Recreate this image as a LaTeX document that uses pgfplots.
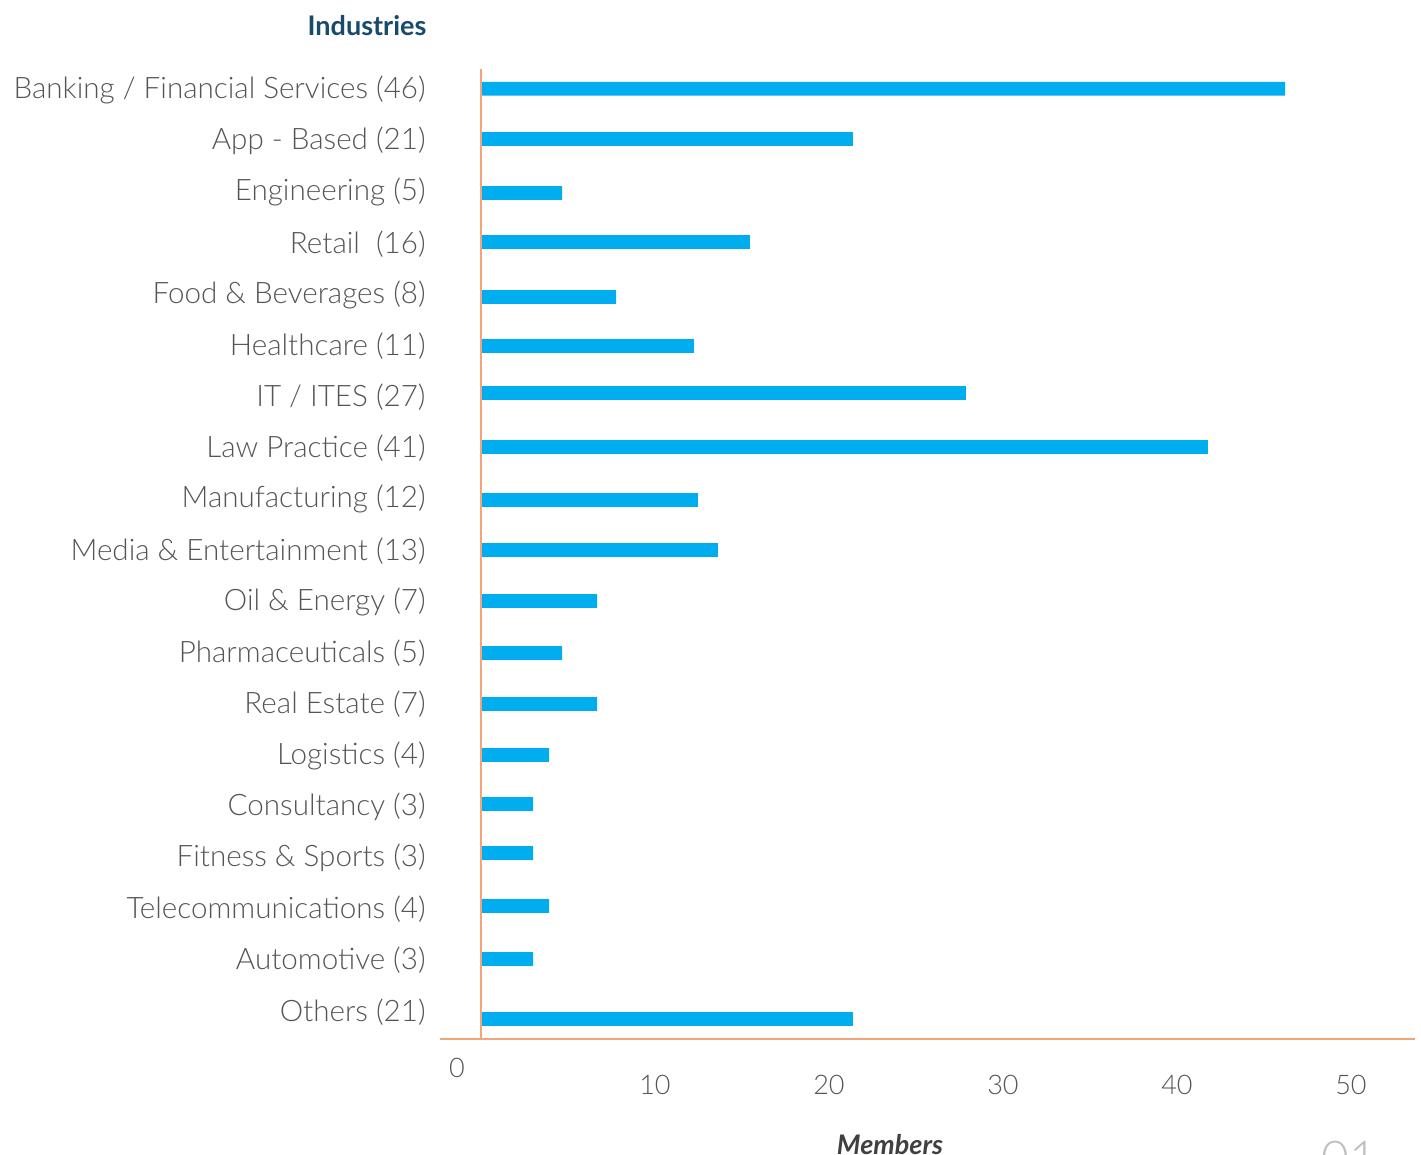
\documentclass[border=0pt]{standalone}
\usepackage{fontspec}
\setmainfont{Lato}[UprightFont=* Light, BoldFont=* Bold, BoldItalicFont=* Bold Italic]
\usepackage{pgfplots}
\usepackage{pgfplotstable}
\pgfplotsset{compat=1.18}
\definecolor{barblue}{HTML}{00AEEF}
\definecolor{axorange}{HTML}{F4A47C}
\definecolor{lbl}{HTML}{555555}
\definecolor{ttl}{HTML}{174A6B}
\definecolor{memb}{HTML}{404040}

\pgfplotstableread{
y v
88.8 46.21
139 21.38
193 4.66
242 15.46
297 7.76
346 12.24
393 27.87
447 41.78
500 12.47
550 13.62
601 6.67
653 4.66
704 6.67
755 3.91
804 2.99
853 2.99
906 3.91
959 2.99
1019 21.38
}\data

\begin{document}
\begin{tikzpicture}
\useasboundingbox (0pt,0pt) rectangle (710.5pt,-577.5pt);
\begin{axis}[
  at={(220pt,-519.5pt)}, anchor=south west,
  scale only axis, width=487.5pt, height=485pt,
  xmin=-2.356, xmax=53.68, ymin=69, ymax=1039, y dir=reverse,
  axis line style={draw=none}, major tick length=0pt, clip=false,
  xtick={10,20,30,40,50},
  ytick={88,139,190,242,293,344,395,446,497,549,600,651,702,754,805,856,907,958,1010},
  yticklabels={Banking / Financial Services (46),App - Based (21),Engineering (5),Retail\ \ (16),Food \& Beverages (8),Healthcare (11),IT / ITES (27),Law Practice (41),Manufacturing (12),Media \& Entertainment (13),Oil \& Energy (7),Pharmaceuticals (5),Real Estate (7),Logistics (4),Consultancy (3),Fitness \& Sports (3),Telecommunications (4),Automotive (3),Others (21)},
  yticklabel style={font=\fontsize{14.8}{17}\selectfont, text=lbl, anchor=east, inner sep=0pt, xshift=-7pt, yshift=-1pt},
  xticklabel style={font=\fontsize{13.5}{16}\selectfont, text=lbl, anchor=center, inner sep=0pt, yshift=-23pt},
  /pgf/number format/assume math mode=true,
]
\addplot[xbar, fill=barblue, draw=none, bar width=13.7] table[x=v,y=y]{\data};
\draw[axorange, line width=1pt] (axis cs:0,69) -- (axis cs:0,1039);
\draw[axorange, line width=1pt] (axis cs:-2.356,1039) -- (axis cs:53.68,1039);
\end{axis}
\node[font=\fontsize{13.5}{16}\selectfont, text=lbl] at (228.5pt,-534pt) {0};
\node[font=\bfseries\fontsize{13.5}{16}\selectfont, text=ttl] at (183.5pt,-13pt) {Industries};
\node[font=\bfseries\itshape\fontsize{13.5}{16}\selectfont, text=memb] at (445pt,-572.5pt) {Members};
\node[font=\fontsize{24}{28}\selectfont, text=gray!50, anchor=north, inner sep=0pt] at (674.5pt,-570.5pt) {01};
\end{tikzpicture}
\end{document}
